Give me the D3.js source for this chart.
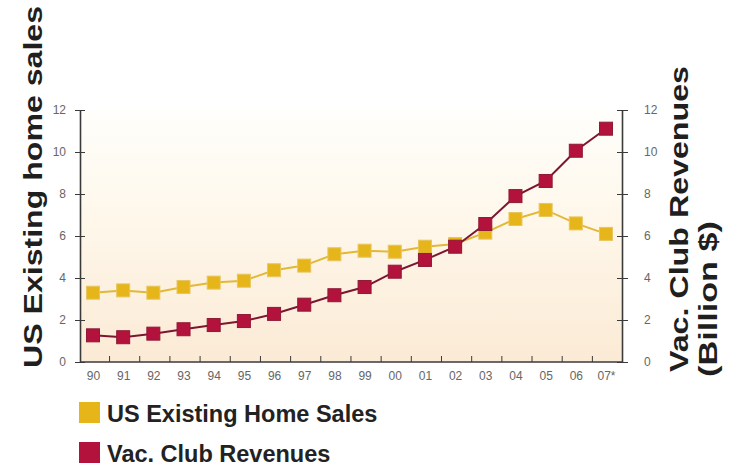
<!DOCTYPE html>
<html>
<head>
<meta charset="utf-8">
<script src="https://cdn.jsdelivr.net/npm/d3@7"></script>
<style>
  html, body { margin: 0; padding: 0; background: #ffffff; }
  svg { display: block; }
  text { font-family: "Liberation Sans", Arial, sans-serif; }
</style>
</head>
<body>
<svg id="chart" width="731" height="469"></svg>
<script>
// Years along the x axis
const years = ["90","91","92","93","94","95","96","97","98","99","00","01","02","03","04","05","06","07*"];
// US existing home sales (millions)
const homeSales = [3.3, 3.41, 3.3, 3.57, 3.78, 3.87, 4.37, 4.59, 5.13, 5.3, 5.25, 5.49, 5.62, 6.16, 6.81, 7.24, 6.6, 6.1];
// Vacation club revenues (billion $)
const clubRevenues = [1.27, 1.18, 1.35, 1.56, 1.76, 1.95, 2.29, 2.73, 3.18, 3.57, 4.3, 4.86, 5.49, 6.57, 7.9, 8.62, 10.06, 11.11];
const yTicks = [0, 2, 4, 6, 8, 10, 12];
const seriesNames = ["US Existing Home Sales", "Vac. Club Revenues"];

const svg = d3.select("#chart");
const plot = { left: 80, right: 622, top: 110, bottom: 362 };

const x = d3.scalePoint().domain(years).range([93, 606]);
const xBand = d3.scaleBand().domain(years).range([plot.left, plot.right]);
const yL = d3.scaleLinear().domain([0, 12]).range([plot.bottom, plot.top]);
const yR = d3.scaleLinear().domain([0, 12]).range([plot.bottom, plot.top]);

// Plot background: soft vertical fade from white to cream
const defs = svg.append("defs");
const grad = defs.append("linearGradient").attr("id", "bg").attr("x1", 0).attr("y1", 0).attr("x2", 0).attr("y2", 1);
grad.append("stop").attr("offset", "0%").attr("stop-color", "#fffefb");
grad.append("stop").attr("offset", "45%").attr("stop-color", "#fef7ea");
grad.append("stop").attr("offset", "100%").attr("stop-color", "#fbead5");
svg.append("rect").attr("x", plot.left).attr("y", plot.top)
  .attr("width", plot.right - plot.left).attr("height", plot.bottom - plot.top)
  .attr("fill", "url(#bg)");

// Left axis
const axisColor = "#3a3a3a", labelColor = "#666";
const gL = svg.append("g").attr("transform", `translate(${plot.left},0)`)
  .call(d3.axisLeft(yL).tickValues(yTicks).tickSizeInner(5).tickSizeOuter(0).tickPadding(9));
gL.selectAll(".tick line").attr("x2", 5).attr("x1", -5);
// Right axis
const gR = svg.append("g").attr("transform", `translate(${plot.right},0)`)
  .call(d3.axisRight(yR).tickValues(yTicks).tickSizeInner(5).tickSizeOuter(0).tickPadding(17));
gR.selectAll(".tick line").attr("x1", -5).attr("x2", 6);
// Bottom axis: ticks at band boundaries pointing up
const gB = svg.append("g").attr("transform", `translate(0,${plot.bottom})`)
  .call(d3.axisBottom(x).tickSize(0).tickPadding(9));
gB.selectAll(".tick")
  .append("line").attr("x1", xBand.bandwidth() / 2 + 1).attr("x2", xBand.bandwidth() / 2 + 1)
  .attr("y1", 0).attr("y2", -6).attr("stroke", axisColor);
gB.selectAll(".tick:last-of-type line").remove();

[gL, gR, gB].forEach(g => {
  g.select(".domain").attr("stroke", axisColor).attr("stroke-width", 1.6);
  g.selectAll(".tick line").attr("stroke", axisColor).attr("stroke-width", 1);
  g.selectAll(".tick text").attr("fill", labelColor).attr("font-size", 12)
    .style("font-family", "'Liberation Sans', Arial, sans-serif");
});
gB.select(".domain").attr("d", `M${plot.left},0H${plot.right}`);

// Series lines and square markers
const series = [
  { name: seriesNames[0], values: homeSales, scale: yL, line: "#e2b935", fill: "#e5b51a", edge: "#e8c560" },
  { name: seriesNames[1], values: clubRevenues, scale: yR, line: "#7c1530", fill: "#b3123c", edge: "#8e1a36" }
];
series.forEach(s => {
  const line = d3.line().x((d, i) => x(years[i])).y(d => s.scale(d));
  svg.append("path").datum(s.values).attr("d", line)
    .attr("fill", "none").attr("stroke", s.line).attr("stroke-width", 2);
  svg.append("g").selectAll("rect").data(s.values).join("rect")
    .attr("x", (d, i) => x(years[i]) - 6.5).attr("y", d => s.scale(d) - 6.5)
    .attr("width", 13).attr("height", 13)
    .attr("fill", s.fill).attr("stroke", s.edge).attr("stroke-width", 1);
});

// Axis titles
function title(tx, ty, len, str) {
  svg.append("text").attr("transform", `translate(${tx},${ty}) rotate(-90)`)
    .attr("text-anchor", "middle").attr("font-size", 26).attr("font-weight", "bold").attr("fill", "#1f1f1f")
    .attr("textLength", len).attr("lengthAdjust", "spacingAndGlyphs")
    .text(str);
}
title(42, 187, 362, "US Existing home sales");
title(688, 219, 306, "Vac. Club Revenues");
title(717, 299, 156, "(Billion $)");

// Legend
const legend = svg.append("g");
series.forEach((s, i) => {
  const ly = 402 + i * 40;
  legend.append("rect").attr("x", 79).attr("y", ly).attr("width", 21).attr("height", 21).attr("fill", s.fill);
  legend.append("text").attr("x", 107).attr("y", ly + 20).attr("font-size", 23.5).attr("font-weight", "bold")
    .attr("fill", "#222").text(s.name);
});
</script>
</body>
</html>
